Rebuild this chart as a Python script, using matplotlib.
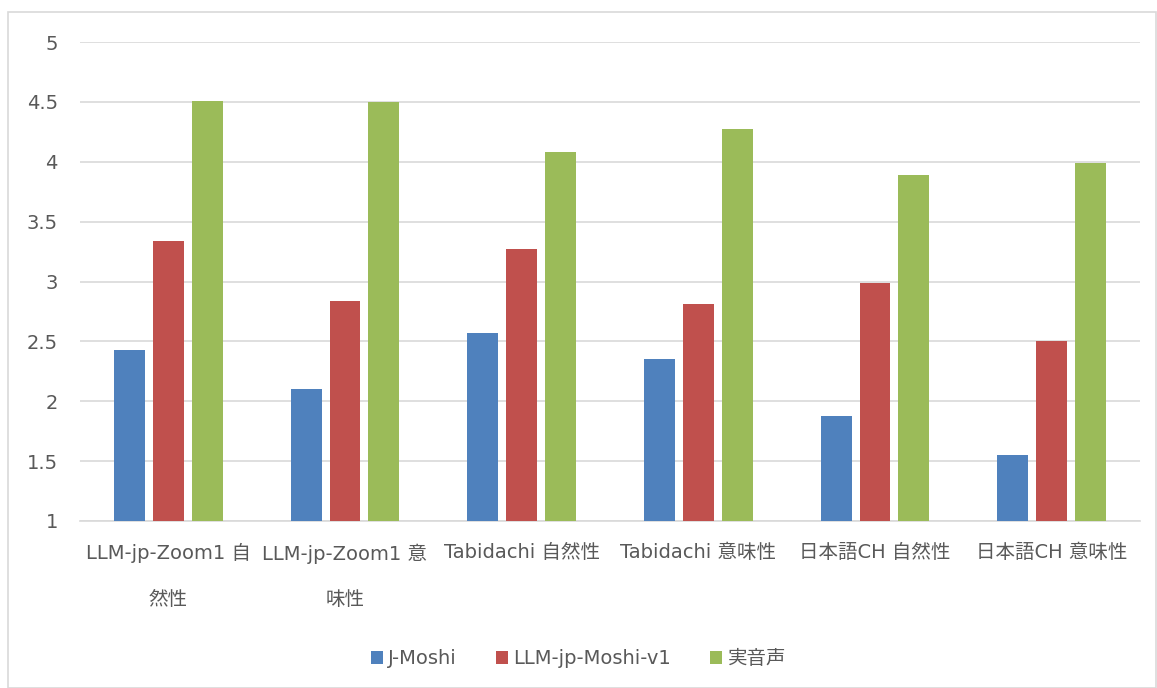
import matplotlib
matplotlib.use("Agg")
import matplotlib.pyplot as plt
import numpy as np
from matplotlib.patches import Rectangle

plt.rcParams['font.family'] = ['DejaVu Sans', 'Noto Sans CJK JP']

categories = ["LLM-jp-Zoom1 自\n然性", "LLM-jp-Zoom1 意\n味性", "Tabidachi 自然性",
              "Tabidachi 意味性", "日本語CH 自然性", "日本語CH 意味性"]
series_names = ["J-Moshi", "LLM-jp-Moshi-v1", "実音声"]
j_moshi = [2.43, 2.10, 2.57, 2.35, 1.88, 1.55]
llm_jp_moshi = [3.34, 2.84, 3.27, 2.81, 2.99, 2.50]
real_voice = [4.51, 4.50, 4.08, 4.27, 3.89, 3.99]
yticks = [1, 1.5, 2, 2.5, 3, 3.5, 4, 4.5, 5]
ytick_labels = ["1", "1.5", "2", "2.5", "3", "3.5", "4", "4.5", "5"]

colors = ["#4F81BD", "#C0504D", "#9BBB59"]
text_color = "#595959"

fig = plt.figure(figsize=(11.57, 6.88), dpi=100)
fig.patches.append(Rectangle((8 / 1157, 0), 1 - 8 / 1157 - 0.0005, 1 - 12 / 688,
                             transform=fig.transFigure, fill=False,
                             edgecolor="#D9D9D9", linewidth=1.2))
ax = fig.add_axes([80 / 1157, 1 - 521 / 688, (1140 - 80) / 1157, (521 - 42) / 688])

x = np.arange(len(categories))
w = 0.175
step = 0.22
for i, (vals, name) in enumerate(zip([j_moshi, llm_jp_moshi, real_voice], series_names)):
    ax.bar(x + (i - 1) * step, np.array(vals) - 1, bottom=1, width=w,
           color=colors[i], label=name, zorder=3)

ax.set_xlim(-0.5, len(categories) - 0.5)
ax.set_ylim(1, 5)
ax.set_yticks(yticks)
ax.set_yticklabels(ytick_labels)
ax.set_xticks(x)
ax.set_xticklabels(categories, linespacing=2.75, va="top")
ax.grid(axis="y", color="#D9D9D9", linewidth=1.2, zorder=0)
for s in ["top", "right", "left"]:
    ax.spines[s].set_visible(False)
ax.spines["bottom"].set_color("#D9D9D9")
ax.spines["bottom"].set_linewidth(1.2)
ax.tick_params(axis="both", length=0, labelsize=14, colors=text_color)
ax.tick_params(axis="y", pad=16)
ax.tick_params(axis="x", pad=16)

leg = fig.legend(loc="center", bbox_to_anchor=(0.5, 1 - 659 / 688), ncol=3,
                 frameon=False, fontsize=14, handlelength=0.6, handleheight=0.6,
                 handletextpad=0.3, columnspacing=2.0)
for t in leg.get_texts():
    t.set_color(text_color)

fig.savefig("out.png", dpi=100)
